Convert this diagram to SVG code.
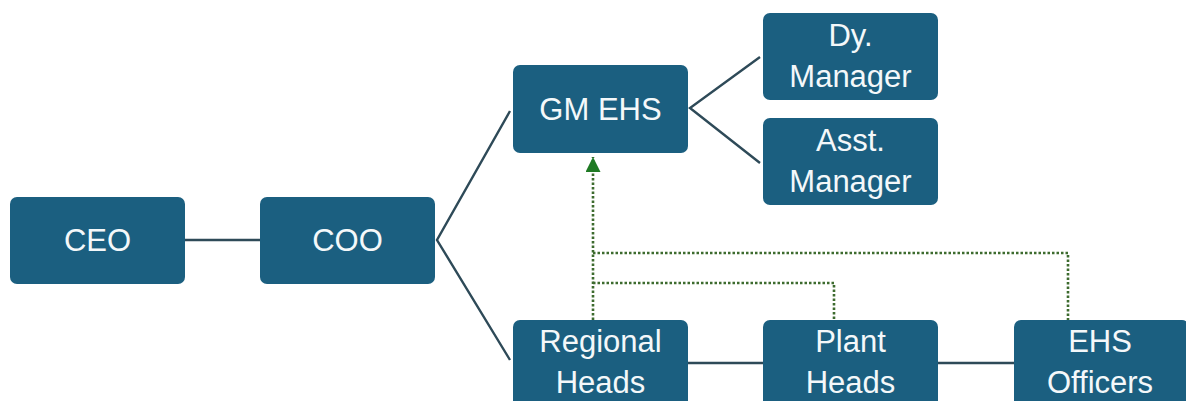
<svg xmlns="http://www.w3.org/2000/svg" width="1186" height="401" viewBox="0 0 1186 401">
<style>
.node rect{fill:#1b5f80;}
.node text{fill:#f4f8fa;font-family:"Liberation Sans",Arial,sans-serif;font-size:31px;text-anchor:middle;}
.solid{stroke:#2e4a58;stroke-width:2.4;fill:none;}
.dot{stroke:#3d6b2e;stroke-width:2.6;stroke-dasharray:2.5 2;fill:none;}
</style>
<defs>
<marker id="arr" markerWidth="16" markerHeight="16" refX="15" refY="7.5" orient="auto" markerUnits="userSpaceOnUse">
<path d="M0,0 L15,7.5 L0,15 z" fill="#1f7a24"/>
</marker>
</defs>
<rect width="1186" height="401" fill="#ffffff"/>
<g id="connectors">
<line class="solid" x1="185" y1="240" x2="260" y2="240"/>
<polyline class="solid" points="510,111 437,240 510,360"/>
<polyline class="solid" points="760,57 690,108 760,163"/>
<line class="solid" x1="688" y1="363" x2="763" y2="363"/>
<line class="solid" x1="938" y1="363" x2="1014" y2="363"/>
<line class="dot" x1="593" y1="320" x2="593" y2="157" marker-end="url(#arr)"/>
<polyline class="dot" points="593,253 1068,253 1068,320"/>
<polyline class="dot" points="593,283 834,283 834,320"/>
</g>
<g id="ceo" class="node"><rect x="10" y="197" width="175" height="87" rx="7"/><text x="97.5" y="251">CEO</text></g>
<g id="coo" class="node"><rect x="260" y="197" width="175" height="87" rx="7"/><text x="347.5" y="251">COO</text></g>
<g id="gm-ehs" class="node"><rect x="513" y="65" width="175" height="88" rx="7"/><text x="600.5" y="120">GM EHS</text></g>
<g id="dy-manager" class="node"><rect x="763" y="13" width="175" height="87" rx="7"/><text x="850.5" y="46">Dy.</text><text x="850.5" y="87">Manager</text></g>
<g id="asst-manager" class="node"><rect x="763" y="118" width="175" height="87" rx="7"/><text x="850.5" y="151">Asst.</text><text x="850.5" y="192">Manager</text></g>
<g id="regional-heads" class="node"><rect x="513" y="320" width="175" height="88" rx="7"/><text x="600.5" y="352">Regional</text><text x="600.5" y="393">Heads</text></g>
<g id="plant-heads" class="node"><rect x="763" y="320" width="175" height="88" rx="7"/><text x="850.5" y="352">Plant</text><text x="850.5" y="393">Heads</text></g>
<g id="ehs-officers" class="node"><rect x="1014" y="320" width="175" height="88" rx="7"/><text x="1100" y="352">EHS</text><text x="1100" y="393">Officers</text></g>
</svg>
